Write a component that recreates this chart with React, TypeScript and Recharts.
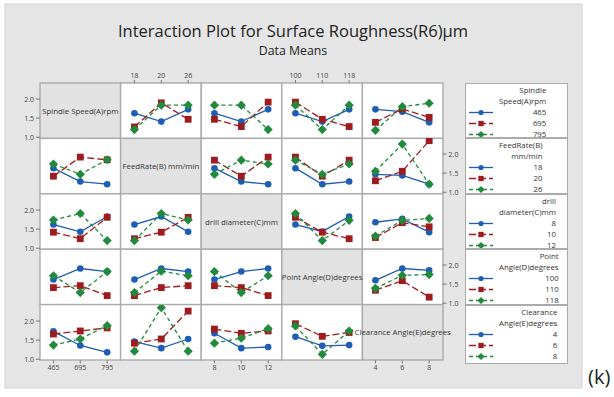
import React from "react";
import { LineChart, Line, XAxis, YAxis } from "recharts";

const factorLabels = [
  "Spindle Speed(A)rpm",
  "FeedRate(B) mm/min",
  "drill diameter(C)mm",
  "Point Angle(D)degrees",
  "Clearance Angle(E)degrees",
];
const legendTitles = [
  ["Spindle", "Speed(A)rpm"],
  ["FeedRate(B)", "mm/min"],
  ["drill", "diameter(C)mm"],
  ["Point", "Angle(D)degrees"],
  ["Clearance", "Angle(E)degrees"],
];
const levelsA = ["465", "695", "795"];
const levelsB = ["18", "20", "26"];
const levelsC = ["8", "10", "12"];
const levelsD = ["100", "110", "118"];
const levelsE = ["4", "6", "8"];
const levels = [levelsA, levelsB, levelsC, levelsD, levelsE];

// R6 means: row factor level (blue, red, green) across the column factor levels
const tracesA = [
  null,
  [[1.63, 1.41, 1.73], [1.27, 1.9, 1.47], [1.2, 1.84, 1.84]],
  [[1.63, 1.41, 1.73], [1.47, 1.28, 1.92], [1.84, 1.84, 1.2]],
  [[1.63, 1.41, 1.73], [1.92, 1.47, 1.28], [1.84, 1.2, 1.84]],
  [[1.73, 1.67, 1.39], [1.39, 1.74, 1.52], [1.18, 1.8, 1.89]],
];
const tracesB = [
  [[1.63, 1.28, 1.21], [1.42, 1.92, 1.85], [1.74, 1.47, 1.85]],
  null,
  [[1.63, 1.28, 1.21], [1.84, 1.42, 1.92], [1.47, 1.84, 1.74]],
  [[1.63, 1.21, 1.28], [1.92, 1.42, 1.84], [1.84, 1.47, 1.74]],
  [[1.47, 1.44, 1.21], [1.3, 1.55, 2.35], [1.55, 2.26, 1.21]],
];
const tracesC = [
  [[1.62, 1.43, 1.83], [1.42, 1.25, 1.81], [1.74, 1.91, 1.2]],
  [[1.62, 1.83, 1.43], [1.25, 1.42, 1.81], [1.2, 1.91, 1.74]],
  null,
  [[1.62, 1.44, 1.83], [1.81, 1.42, 1.25], [1.91, 1.2, 1.73]],
  [[1.68, 1.77, 1.42], [1.28, 1.67, 1.56], [1.32, 1.73, 1.78]],
];
const tracesD = [
  [[1.62, 1.91, 1.83], [1.41, 1.46, 1.2], [1.72, 1.28, 1.83]],
  [[1.62, 1.91, 1.83], [1.2, 1.41, 1.46], [1.28, 1.84, 1.72]],
  [[1.62, 1.83, 1.91], [1.46, 1.41, 1.2], [1.83, 1.28, 1.72]],
  null,
  [[1.6, 1.91, 1.86], [1.34, 1.59, 1.16], [1.39, 1.73, 1.75]],
];
const tracesE = [
  [[1.73, 1.36, 1.18], [1.66, 1.74, 1.82], [1.37, 1.53, 1.88]],
  [[1.46, 1.29, 1.53], [1.42, 1.53, 2.26], [1.21, 2.35, 1.21]],
  [[1.68, 1.29, 1.32], [1.79, 1.68, 1.74], [1.42, 1.55, 1.8]],
  [[1.59, 1.35, 1.37], [1.93, 1.6, 1.7], [1.87, 1.13, 1.74]],
  null,
];
const traces = [tracesA, tracesB, tracesC, tracesD, tracesE];

const yDomain: [number, number] = [0.97, 2.42];
const yTicks = [1.0, 1.5, 2.0];

const FONT = "'Open Sans', sans-serif";
const GX = 40;
const GY = 83;
const CW = 80.6;
const CH = 55.4;
const AXW = 30;
const AXH = 20;
const EDGE = 6; // spare room so edge tick labels are not clipped

const seriesStyle = [
  { key: "s0", color: "#1d5db4", dash: undefined as string | undefined, shape: "circle" },
  { key: "s1", color: "#9e1b1e", dash: "7 3", shape: "square" },
  { key: "s2", color: "#228a3c", dash: "4 3", shape: "diamond" },
];

function marker(shape: string, color: string, cx: number, cy: number, k = 1, key?: any) {
  if (shape === "circle") return <circle key={key} cx={cx} cy={cy} r={3.3 * k} fill={color} />;
  if (shape === "square")
    return <rect key={key} x={cx - 3.4 * k} y={cy - 3.4 * k} width={6.8 * k} height={6.8 * k} fill={color} />;
  const d = 4.6 * k;
  return (
    <polygon key={key} points={`${cx},${cy - d} ${cx + d},${cy} ${cx},${cy + d} ${cx - d},${cy}`} fill={color} />
  );
}

function makeDot(shape: string, color: string) {
  return (props: any) => {
    const { cx, cy, index } = props;
    if (cx == null || cy == null || props.value == null) return <g key={index} />;
    return marker(shape, color, cx, cy, 1, index);
  };
}

function Panel({ r, c }: { r: number; c: number }) {
  const diag = r === c;
  const top = r === 0 && c % 2 === 1;
  const bottom = r === 4 && c % 2 === 0;
  const left = c === 0 && r % 2 === 0;
  const right = c === 4 && r % 2 === 1;
  if (diag && !left && !bottom) return null;
  const tr = diag ? null : traces[r][c];
  const rows = levels[c].map((lv, i) => ({
    lv,
    s0: tr ? tr[0][i] : null,
    s1: tr ? tr[1][i] : null,
    s2: tr ? tr[2][i] : null,
  }));
  const padL = left ? AXW : 0;
  const padR = right ? AXW : 0;
  const padT = top ? AXH : 0;
  const padB = bottom ? AXH : 0;
  const tickStyle = { fontSize: 7, fill: "#444", fontFamily: FONT };

  return (
    <div style={{ position: "absolute", left: GX + c * CW - padL, top: GY + r * CH - padT - EDGE }}>
      <LineChart
        width={CW + padL + padR}
        height={CH + padT + padB + 2 * EDGE}
        data={rows}
        margin={{ top: EDGE, right: 0, bottom: EDGE, left: 0 }}
      >
        <XAxis
          dataKey="lv"
          type="category"
          hide={!top && !bottom}
          orientation={top ? "top" : "bottom"}
          height={AXH}
          padding={{ left: CW / 6, right: CW / 6 }}
          interval={0}
          axisLine={false}
          tickLine={{ stroke: "#777" }}
          tickSize={3}
          tick={tickStyle}
        />
        <YAxis
          type="number"
          domain={yDomain}
          allowDataOverflow
          ticks={yTicks}
          interval={0}
          tickFormatter={(v: number) => v.toFixed(1)}
          hide={!left && !right}
          orientation={right ? "right" : "left"}
          width={AXW}
          axisLine={false}
          tickLine={{ stroke: "#777" }}
          tickSize={4}
          tick={tickStyle}
        />
        {seriesStyle.map((s) => (
          <Line
            key={s.key}
            dataKey={s.key}
            stroke={diag ? "none" : s.color}
            strokeWidth={1.3}
            strokeDasharray={s.dash}
            dot={diag ? false : makeDot(s.shape, s.color)}
            activeDot={false}
            isAnimationActive={false}
          />
        ))}
      </LineChart>
    </div>
  );
}

function LegendBox({ r }: { r: number }) {
  const h = r === 4 ? 59 : CH;
  return (
    <div
      style={{
        position: "absolute",
        left: 465,
        top: GY + r * CH,
        width: 103,
        height: h,
        boxSizing: "border-box",
        background: "#fff",
        border: "1px solid #ababab",
        overflow: "hidden",
        fontFamily: FONT,
        fontSize: 7.8,
        color: "#333",
      }}
    >
      <div
        style={{
          position: "absolute",
          left: 33,
          top: 1,
          display: "inline-block",
          textAlign: "right",
          lineHeight: "11px",
          whiteSpace: "nowrap",
        }}
      >
        {legendTitles[r].map((t) => (
          <div key={t}>{t}</div>
        ))}
        {levels[r].map((lv) => (
          <div key={lv}>{lv}</div>
        ))}
      </div>
      {seriesStyle.map((s, k) => (
        <svg key={s.key} width={26} height={11} style={{ position: "absolute", left: 2, top: 23 + k * 11 }}>
          <line x1={1} y1={5.5} x2={25} y2={5.5} stroke={s.color} strokeWidth={1.3} strokeDasharray={s.dash} />
          {marker(s.shape, s.color, 13, 5.5, 0.78)}
        </svg>
      ))}
    </div>
  );
}

export default function App() {
  const cells: React.ReactNode[] = [];
  for (let r = 0; r < 5; r++) {
    for (let c = 0; c < 5; c++) {
      cells.push(
        <rect
          key={`${r}-${c}`}
          x={GX + c * CW}
          y={GY + r * CH}
          width={CW}
          height={CH}
          fill={r === c ? "#e2e2e2" : "#ffffff"}
          stroke="#ababab"
          strokeWidth={1.4}
        />
      );
    }
  }
  const panels: React.ReactNode[] = [];
  for (let r = 0; r < 5; r++) for (let c = 0; c < 5; c++) panels.push(<Panel key={`p${r}${c}`} r={r} c={c} />);

  return (
    <div style={{ position: "fixed", left: 0, top: 0, width: 614, height: 397, background: "#fff" }}>
      <svg width={614} height={397} style={{ position: "absolute", left: 0, top: 0 }}>
        <rect x={5} y={4} width={577} height={384} fill="#e5e5e5" stroke="#d2d2d2" strokeWidth={1} />
        <text x={293} y={37} textAnchor="middle" fontFamily={FONT} fontSize={16.5} fill="#222">
          Interaction Plot for Surface Roughness(R6)µm
        </text>
        <text x={293} y={55} textAnchor="middle" fontFamily={FONT} fontSize={12.3} fill="#222">
          Data Means
        </text>
        {cells}
        {factorLabels.map((f, i) => (
          <text
            key={f}
            x={GX + i * CW + CW / 2}
            y={GY + i * CH + CH / 2 + 3}
            textAnchor="middle"
            fontFamily={FONT}
            fontSize={7.8}
            fill="#333"
          >
            {f}
          </text>
        ))}
        <text x={588} y={384} fontFamily={FONT} fontSize={20} fill="#222">
          (k)
        </text>
      </svg>
      {[0, 1, 2, 3, 4].map((r) => (
        <LegendBox key={r} r={r} />
      ))}
      {panels}
    </div>
  );
}
